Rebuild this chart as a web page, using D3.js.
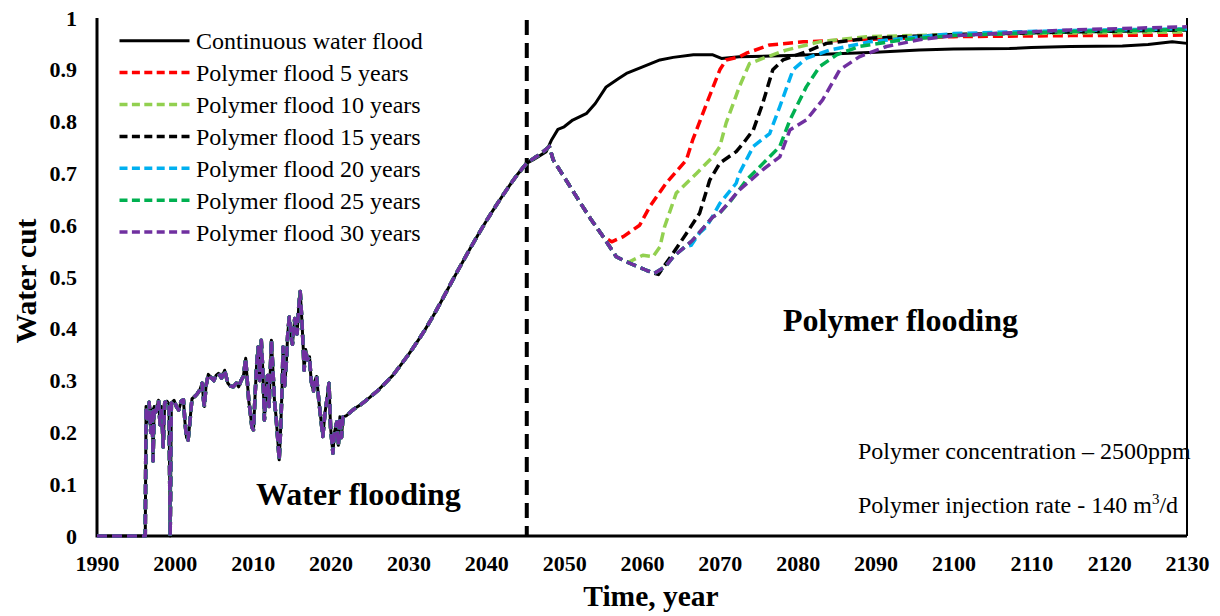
<!DOCTYPE html>
<html>
<head>
<meta charset="utf-8">
<script src="https://cdn.jsdelivr.net/npm/d3@7"></script>
<style>
  html, body { margin: 0; padding: 0; background: #fff; }
  svg { display: block; }
  text { font-family: "Liberation Serif", "Times New Roman", serif; fill: #000; }
</style>
</head>
<body>
<svg id="chart" width="1220" height="616"></svg>
<script>
// ---- data: water cut vs. time ----
const xTicks = [1990, 2000, 2010, 2020, 2030, 2040, 2050, 2060, 2070, 2080, 2090, 2100, 2110, 2120, 2130];
const yTicks = [0, 0.1, 0.2, 0.3, 0.4, 0.5, 0.6, 0.7, 0.8, 0.9, 1];
const polymerStartYear = 2045.2;

// shared production history (water flooding period)
const historyCut = [
  [1990, 0], [1996.2, 0], [1996.3, 0.25], [1996.5, 0.22], [1996.7, 0.258], [1996.9, 0.2],
  [1997.1, 0.245], [1997.2, 0.145], [1997.35, 0.25], [1997.6, 0.24], [1997.9, 0.262],
  [1998.1, 0.215], [1998.3, 0.25], [1998.5, 0.172], [1998.7, 0.258], [1999.0, 0.26],
  [1999.25, 0.255], [1999.4, 0.0], [1999.55, 0.256], [1999.9, 0.262], [2000.2, 0.25],
  [2000.5, 0.243], [2000.8, 0.26], [2001.1, 0.263], [2001.3, 0.22], [2001.5, 0.19],
  [2001.7, 0.185], [2001.9, 0.215], [2002.2, 0.265], [2002.6, 0.27], [2002.9, 0.275],
  [2003.2, 0.282], [2003.5, 0.295], [2003.7, 0.26], [2003.8, 0.25], [2004.0, 0.29],
  [2004.3, 0.312], [2004.7, 0.305], [2005.0, 0.3], [2005.3, 0.31], [2005.6, 0.314],
  [2006.0, 0.305], [2006.4, 0.32], [2006.8, 0.295], [2007.1, 0.29], [2007.5, 0.288],
  [2007.9, 0.295], [2008.2, 0.288], [2008.5, 0.3], [2008.8, 0.308], [2009.1, 0.343],
  [2009.3, 0.3], [2009.5, 0.26], [2009.7, 0.237], [2009.9, 0.21], [2010.1, 0.205],
  [2010.3, 0.27], [2010.5, 0.33], [2010.7, 0.365], [2010.9, 0.3], [2011.1, 0.378],
  [2011.3, 0.32], [2011.5, 0.224], [2011.7, 0.28], [2011.9, 0.31], [2012.1, 0.25],
  [2012.4, 0.378], [2012.6, 0.32], [2012.8, 0.26], [2013.0, 0.23], [2013.2, 0.19],
  [2013.4, 0.147], [2013.6, 0.21], [2013.8, 0.3], [2013.9, 0.365], [2014.1, 0.29],
  [2014.3, 0.33], [2014.5, 0.39], [2014.7, 0.423], [2014.9, 0.39], [2015.1, 0.37],
  [2015.4, 0.42], [2015.7, 0.39], [2015.9, 0.44], [2016.1, 0.472], [2016.3, 0.42],
  [2016.5, 0.36], [2016.6, 0.32], [2016.8, 0.36], [2017.0, 0.34], [2017.3, 0.346],
  [2017.5, 0.3], [2017.8, 0.28], [2018.0, 0.3], [2018.2, 0.308], [2018.5, 0.26],
  [2018.8, 0.22], [2019.0, 0.192], [2019.3, 0.24], [2019.5, 0.26], [2019.8, 0.295],
  [2020.0, 0.21], [2020.3, 0.16], [2020.5, 0.2], [2020.8, 0.22], [2021.0, 0.175],
  [2021.2, 0.23], [2021.4, 0.19], [2021.6, 0.23], [2022, 0.232], [2023, 0.245],
  [2024, 0.255], [2025, 0.267], [2026, 0.28], [2027, 0.295], [2028, 0.31], [2029, 0.33],
  [2030, 0.35], [2031, 0.372], [2032, 0.395], [2033, 0.42], [2034, 0.447], [2035, 0.475],
  [2036, 0.503], [2037, 0.53], [2038, 0.557], [2039, 0.583], [2040, 0.608], [2041, 0.632],
  [2042, 0.655], [2043, 0.677], [2044, 0.698], [2045.2, 0.72]
];

// continuous water flood forecast
const waterFloodCut = [
  [2046, 0.726], [2047.7, 0.742], [2048.4, 0.765], [2049.2, 0.785], [2050, 0.79],
  [2051.1, 0.803], [2052.9, 0.816], [2054, 0.835], [2055.4, 0.867], [2057, 0.883],
  [2058, 0.893], [2060, 0.905], [2062.3, 0.919], [2064, 0.924], [2066.6, 0.929],
  [2069.1, 0.929], [2070.2, 0.922], [2072.5, 0.925], [2080, 0.928], [2090, 0.934],
  [2095.6, 0.938], [2100, 0.94], [2107.2, 0.941], [2110, 0.943], [2115, 0.945],
  [2121.7, 0.946], [2125, 0.949], [2128.1, 0.954], [2130, 0.951]
];

// polymer response shared by all injection periods
const polymerEarlyCut = [
  [2046.4, 0.732], [2047, 0.738], [2048.1, 0.752], [2048.6, 0.726], [2050, 0.693],
  [2052.0, 0.645], [2053.5, 0.61], [2055.0, 0.578]
];
const poly5Cut = [
  [2056.1, 0.568], [2057.6, 0.578], [2059.7, 0.6], [2061, 0.636], [2063.1, 0.681],
  [2065.7, 0.726], [2066.5, 0.764], [2068.3, 0.835], [2070, 0.9], [2070.8, 0.919],
  [2072.5, 0.925], [2073.4, 0.932], [2076.4, 0.948], [2080.7, 0.954], [2087.1, 0.958],
  [2100, 0.964], [2115, 0.966], [2130, 0.967]
];
const polymerMidCut = [[2056.7, 0.539], [2058.2, 0.528]];
const poly10Cut = [
  [2060.1, 0.542], [2061.4, 0.539], [2062.3, 0.558], [2062.9, 0.597], [2064.4, 0.662],
  [2067, 0.7], [2069.1, 0.732], [2070, 0.752], [2070.8, 0.797], [2072.5, 0.867],
  [2073.8, 0.912], [2075.5, 0.922], [2078.5, 0.938], [2082.8, 0.954], [2088.8, 0.964],
  [2100, 0.968], [2115, 0.971], [2130, 0.973]
];
const polymerLateCut = [[2060.5, 0.5135], [2061.6, 0.507]];
const poly15Cut = [
  [2062.1, 0.505], [2064, 0.546], [2065.7, 0.584], [2067.4, 0.623], [2068.7, 0.687],
  [2070, 0.72], [2072.1, 0.742], [2073, 0.758], [2074.3, 0.784], [2075.5, 0.835],
  [2076.8, 0.9], [2078.1, 0.919], [2081.1, 0.935], [2083.7, 0.951], [2089.2, 0.961],
  [2100, 0.968], [2115, 0.973], [2130, 0.977]
];
const polymerTailCut = [[2063, 0.52], [2064, 0.539], [2065.5, 0.558]];
const poly20Cut = [
  [2066.3, 0.561], [2067.4, 0.585], [2068.3, 0.597], [2070, 0.642], [2072.1, 0.681],
  [2072.5, 0.7], [2074.3, 0.752], [2076.4, 0.777], [2077.7, 0.829], [2079.4, 0.9],
  [2081.1, 0.922], [2084.1, 0.938], [2089.2, 0.954], [2100, 0.97], [2115, 0.976], [2130, 0.979]
];
const polymerEndCut = [[2066.5, 0.571], [2069.1, 0.616], [2070, 0.624]];
const poly25Cut = [
  [2071.3, 0.645], [2073.4, 0.687], [2076, 0.726], [2077.7, 0.752], [2079, 0.803],
  [2081.1, 0.867], [2082.8, 0.906], [2085, 0.929], [2087.9, 0.945], [2093.5, 0.958],
  [2100, 0.966], [2115, 0.974], [2130, 0.978]
];
const poly30Cut = [
  [2072.5, 0.668], [2075.5, 0.707], [2077.7, 0.732], [2079, 0.784], [2081.1, 0.803],
  [2083.2, 0.842], [2085.4, 0.9], [2087.9, 0.925], [2091.4, 0.945], [2095.6, 0.958],
  [2100, 0.966], [2115, 0.977], [2130, 0.983]
];

const seriesNames = [
  "Continuous water flood", "Polymer flood 5 years", "Polymer flood 10 years",
  "Polymer flood 15 years", "Polymer flood 20 years", "Polymer flood 25 years",
  "Polymer flood 30 years"
];
const seriesColors = ["#000000", "#ff0000", "#92d050", "#000000", "#00b0f0", "#00b050", "#7030a0"];

// assemble each full scenario
const early = historyCut.concat(polymerEarlyCut);
const seriesData = [
  historyCut.concat(waterFloodCut),
  early.concat(poly5Cut),
  early.concat(polymerMidCut, poly10Cut),
  early.concat(polymerMidCut, polymerLateCut, poly15Cut),
  early.concat(polymerMidCut, polymerLateCut, polymerTailCut, poly20Cut),
  early.concat(polymerMidCut, polymerLateCut, polymerTailCut, polymerEndCut, poly25Cut),
  early.concat(polymerMidCut, polymerLateCut, polymerTailCut, polymerEndCut, poly30Cut)
];

// ---- layout ----
const svg = d3.select("#chart");
const x = d3.scaleLinear().domain([1990, 2130]).range([97, 1187]);
const y = d3.scaleLinear().domain([0, 1]).range([536, 18]);
const serif = "'Liberation Serif', 'Times New Roman', serif";

const defs = svg.append("defs");
defs.append("filter").attr("id", "soft").attr("x", "-300%").attr("width", "700%")
  .append("feGaussianBlur").attr("stdDeviation", 3);

// plot frame
svg.append("line").attr("x1", x(1990)).attr("x2", x(1990)).attr("y1", y(1)).attr("y2", y(0) + 1.5)
  .attr("stroke", "#000").attr("stroke-width", 3);
svg.append("line").attr("x1", x(1990)).attr("x2", x(2130)).attr("y1", y(0)).attr("y2", y(0))
  .attr("stroke", "#000").attr("stroke-width", 3);
svg.append("line").attr("x1", x(2130)).attr("x2", x(2130)).attr("y1", y(1)).attr("y2", y(0))
  .attr("stroke", "#000").attr("stroke-width", 2);

// axes
const xAxis = d3.axisBottom(x).tickValues(xTicks).tickFormat(d3.format("d")).tickSize(0).tickPadding(19);
const gx = svg.append("g").attr("transform", `translate(0,${y(0)})`).call(xAxis);
gx.select(".domain").remove();
gx.selectAll("text").style("font-family", serif).style("font-size", "22px")
  .style("font-weight", "bold").attr("fill", "#000");

const yAxis = d3.axisLeft(y).tickValues(yTicks)
  .tickFormat(d => (d === 0 || d === 1) ? d3.format("d")(d) : d3.format(".1f")(d))
  .tickSize(0).tickPadding(20);
const gy = svg.append("g").attr("transform", `translate(${x(1990)},0)`).call(yAxis);
gy.select(".domain").remove();
gy.selectAll("text").style("font-family", serif).style("font-size", "22px")
  .style("font-weight", "bold").attr("fill", "#000");

// axis titles
svg.append("text").attr("x", 651).attr("y", 606).attr("text-anchor", "middle")
  .style("font-size", "29.5px").style("font-weight", "bold").text("Time, year");
svg.append("text").attr("transform", "translate(36,281) rotate(-90)").attr("text-anchor", "middle")
  .style("font-size", "29.5px").style("font-weight", "bold").text("Water cut");

// boundary between water flooding and polymer flooding
svg.append("line").attr("x1", x(polymerStartYear)).attr("x2", x(polymerStartYear))
  .attr("y1", y(1) + 2).attr("y2", y(0)).attr("stroke", "#888").attr("stroke-width", 7)
  .attr("stroke-dasharray", "15,8").attr("filter", "url(#soft)");
svg.append("line").attr("x1", x(polymerStartYear)).attr("x2", x(polymerStartYear))
  .attr("y1", y(1) + 2).attr("y2", y(0)).attr("stroke", "#000").attr("stroke-width", 4)
  .attr("stroke-dasharray", "15,8");

// curves
const line = d3.line().x(d => x(d[0])).y(d => y(d[1])).curve(d3.curveLinear);
seriesData.forEach((data, i) => {
  svg.append("path").datum(data).attr("d", line).attr("fill", "none")
    .attr("stroke", seriesColors[i]).attr("stroke-width", i === 0 ? 3 : 3.5)
    .attr("stroke-linejoin", "round")
    .attr("stroke-dasharray", i === 0 ? null : "10,5");
});

// legend
const legend = svg.append("g").attr("transform", "translate(119.5,40.7)");
seriesNames.forEach((name, i) => {
  const row = legend.append("g").attr("transform", `translate(0,${i * 31.9})`);
  row.append("line").attr("x1", 0).attr("x2", 70).attr("y1", 0).attr("y2", 0)
    .attr("stroke", seriesColors[i]).attr("stroke-width", i === 0 ? 3 : 3.5)
    .attr("stroke-dasharray", i === 0 ? null : "8,4.4");
  row.append("text").attr("x", 76.5).attr("y", 8.5).style("font-size", "24px").text(name);
});

// region labels
svg.append("text").attr("x", 256).attr("y", 505).style("font-size", "32px")
  .style("font-weight", "bold").text("Water flooding");
svg.append("text").attr("x", 783).attr("y", 331).style("font-size", "32px")
  .style("font-weight", "bold").text("Polymer flooding");

// injection conditions
svg.append("text").attr("x", 858).attr("y", 459).style("font-size", "24px")
  .text("Polymer concentration \u2013 2500ppm");
const rate = svg.append("text").attr("x", 858).attr("y", 512.5).style("font-size", "24px");
rate.append("tspan").text("Polymer injection rate - 140 m");
rate.append("tspan").attr("dy", -9).style("font-size", "15px").text("3");
rate.append("tspan").attr("dy", 9).text("/d");
</script>
</body>
</html>
